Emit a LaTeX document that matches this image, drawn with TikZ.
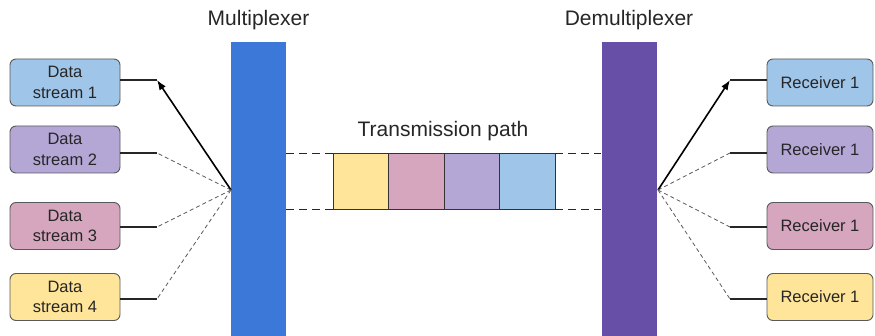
\documentclass[tikz,border=0pt]{standalone}
\usepackage{fontspec}
\setmainfont{Liberation Sans}
\usetikzlibrary{arrows.meta}
\definecolor{cblue}{HTML}{9FC5E8}
\definecolor{cpurple}{HTML}{B4A7D6}
\definecolor{cpink}{HTML}{D5A6BD}
\definecolor{cyellow}{HTML}{FFE599}
\definecolor{muxc}{HTML}{3C78D8}
\definecolor{demuxc}{HTML}{674EA7}
\definecolor{edgec}{HTML}{595959}
\tikzset{
  sbox/.style={draw=edgec, line width=0.9pt, rounded corners=6pt, minimum width=110pt, minimum height=47pt, inner sep=0pt, align=center, font=\fontsize{16.5}{20.5}\selectfont, text=black!85},
  bar/.style={draw=none, minimum width=55pt, minimum height=294pt, inner sep=0pt, anchor=north},
  title/.style={font=\fontsize{21}{25}\selectfont, text=black!85},
  cell/.style={draw=black!80, line width=0.9pt, minimum width=55.5pt, minimum height=56pt, inner sep=0pt},
  solidl/.style={draw=black!85, line width=1.4pt},
  dashl/.style={draw=edgec, line width=0.8pt, dash pattern=on 4pt off 3pt},
  pathl/.style={draw=black!85, line width=1pt, dash pattern=on 8pt off 5pt},
  arr/.style={draw=black, line width=1.6pt, -{Latex[length=10pt,width=7.5pt]}},
}
\begin{document}
\begin{tikzpicture}[x=1pt,y=-1pt]
\useasboundingbox (0,0) rectangle (875,336);
% bars
\node[bar, fill=muxc] (mux) at (258.5,42) {};
\node[bar, fill=demuxc] (demux) at (629,42) {};
\node[title] (muxl) at (258.5,20) {Multiplexer};
\node[title] (demuxl) at (629,20) {Demultiplexer};
\coordinate (hubL) at (231,190);
\coordinate (hubR) at (658,190);
% left boxes
\node[sbox, fill=cblue] (d1) at (65,82.5) {Data\\stream 1};
\node[sbox, fill=cpurple] (d2) at (65,149.5) {Data\\stream 2};
\node[sbox, fill=cpink] (d3) at (65,226) {Data\\stream 3};
\node[sbox, fill=cyellow] (d4) at (65,297) {Data\\stream 4};
\coordinate (j1) at (157,80);
\coordinate (j2) at (157,153);
\coordinate (j3) at (157,227);
\coordinate (j4) at (157,299);
\draw[solidl] (d1.east |- j1) -- (j1);
\draw[solidl] (d2.east |- j2) -- (j2);
\draw[solidl] (d3.east |- j3) -- (j3);
\draw[solidl] (d4.east |- j4) -- (j4);
\draw[arr] (hubL) -- (j1);
\draw[dashl] (hubL) -- (j2);
\draw[dashl] (hubL) -- (j3);
\draw[dashl] (hubL) -- (j4);
% right boxes
\node[sbox, fill=cblue, minimum width=106pt] (r1) at (820,82.5) {Receiver 1};
\node[sbox, fill=cpurple, minimum width=106pt] (r2) at (820,149.5) {Receiver 1};
\node[sbox, fill=cpink, minimum width=106pt] (r3) at (820,226) {Receiver 1};
\node[sbox, fill=cyellow, minimum width=106pt] (r4) at (820,297) {Receiver 1};
\coordinate (k1) at (730,80);
\coordinate (k2) at (730,153);
\coordinate (k3) at (730,227);
\coordinate (k4) at (730,299);
\draw[solidl] (r1.west |- k1) -- (k1);
\draw[solidl] (r2.west |- k2) -- (k2);
\draw[solidl] (r3.west |- k3) -- (k3);
\draw[solidl] (r4.west |- k4) -- (k4);
\draw[arr] (hubR) -- (k1);
\draw[dashl] (hubR) -- (k2);
\draw[dashl] (hubR) -- (k3);
\draw[dashl] (hubR) -- (k4);
% transmission path
\node[cell, fill=cyellow] (c1) at (360.75,181.5) {};
\node[cell, fill=cpink] (c2) at (416.25,181.5) {};
\node[cell, fill=cpurple] (c3) at (471.75,181.5) {};
\node[cell, fill=cblue] (c4) at (527.25,181.5) {};
\node[title] (tp) at (443,131) {Transmission path};
\draw[pathl] (mux.east |- c1.north) -- (c1.north west);
\draw[pathl] (mux.east |- c1.south) -- (c1.south west);
\draw[pathl] (c4.north east) -- (demux.west |- c4.north);
\draw[pathl] (c4.south east) -- (demux.west |- c4.south);
\end{tikzpicture}
\end{document}
